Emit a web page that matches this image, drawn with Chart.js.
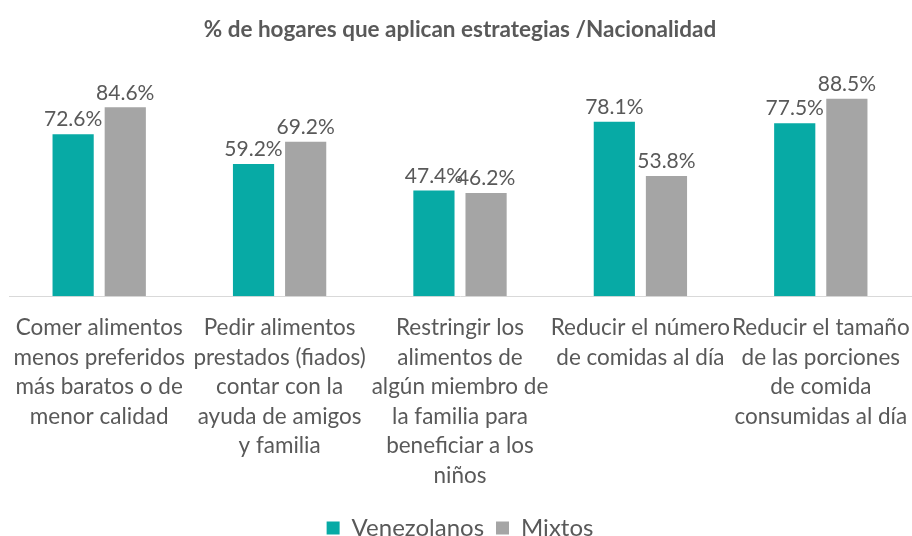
<!DOCTYPE html>
<html>
<head>
<meta charset="utf-8">
<script src="https://cdn.jsdelivr.net/npm/chart.js@4"></script>
<style>
  html, body { margin: 0; padding: 0; background: #fff; }
  #wrap { width: 912px; height: 536px; }
</style>
</head>
<body>
<div id="wrap"><canvas id="chart"></canvas></div>
<script>
// Categorias (etiquetas del eje X, en varias líneas)
const categories = [
    ['Comer alimentos', 'menos preferidos', 'más baratos o de', 'menor calidad'],
    ['Pedir alimentos', 'prestados (fiados)', 'contar con la', 'ayuda de amigos', 'y familia'],
    ['Restringir los', 'alimentos de', 'algún miembro de', 'la familia para', 'beneficiar a los', 'niños'],
    ['Reducir el número', 'de comidas al día'],
    ['Reducir el tamaño', 'de las porciones', 'de comida', 'consumidas al día']
];

// Porcentajes por nacionalidad
const venezolanos = [72.6, 59.2, 47.4, 78.1, 77.5];
const mixtos = [84.6, 69.2, 46.2, 53.8, 88.5];

const textColor = '#595959';
const fontFamily = 'Lato, "Open Sans", sans-serif';

// Etiquetas de valor encima de cada barra
const valueLabels = {
    id: 'valueLabels',
    afterDatasetsDraw(chart) {
        const ctx = chart.ctx;
        ctx.save();
        ctx.font = '21px ' + fontFamily;
        ctx.fillStyle = textColor;
        ctx.textAlign = 'center';
        ctx.textBaseline = 'bottom';
        chart.data.datasets.forEach((ds, i) => {
            chart.getDatasetMeta(i).data.forEach((bar, j) => {
                ctx.fillText(ds.data[j].toFixed(1) + '%', bar.x, bar.y - 4);
            });
        });
        ctx.restore();
    }
};

new Chart(document.getElementById('chart'), {
    type: 'bar',
    data: {
        labels: categories,
        datasets: [
            {
                label: 'Venezolanos',
                data: venezolanos,
                backgroundColor: '#07AAA5',
                categoryPercentage: 0.578,
                barPercentage: 0.79
            },
            {
                label: 'Mixtos',
                data: mixtos,
                backgroundColor: '#A5A5A5',
                categoryPercentage: 0.578,
                barPercentage: 0.79
            }
        ]
    },
    options: {
        responsive: true,
        maintainAspectRatio: false,
        animation: false,
        layout: { padding: { left: 9, right: 1, bottom: -14 } },
        scales: {
            x: {
                grid: { display: false },
                border: { color: '#D9D9D9', width: 1 },
                ticks: {
                    color: textColor,
                    font: { family: fontFamily, size: 22.5, lineHeight: 1.31 },
                    maxRotation: 0,
                    autoSkip: false,
                    padding: 9
                },
                afterFit(scale) {
                    // las etiquetas de los extremos pueden salirse del área
                    scale.paddingLeft = 0;
                    scale.paddingRight = 0;
                    scale.height += 5;
                }
            },
            y: {
                display: false,
                min: 0,
                max: 100
            }
        },
        plugins: {
            title: {
                display: true,
                text: '% de hogares que aplican estrategias /Nacionalidad',
                color: textColor,
                font: { family: fontFamily, size: 22.5, weight: 'bold' },
                padding: { top: 16, bottom: 30 }
            },
            legend: {
                position: 'bottom',
                labels: {
                    color: textColor,
                    font: { family: fontFamily, size: 24 },
                    boxWidth: 13,
                    boxHeight: 13,
                    padding: 12
                }
            },
            tooltip: { enabled: false }
        }
    },
    plugins: [valueLabels]
});
</script>
</body>
</html>
